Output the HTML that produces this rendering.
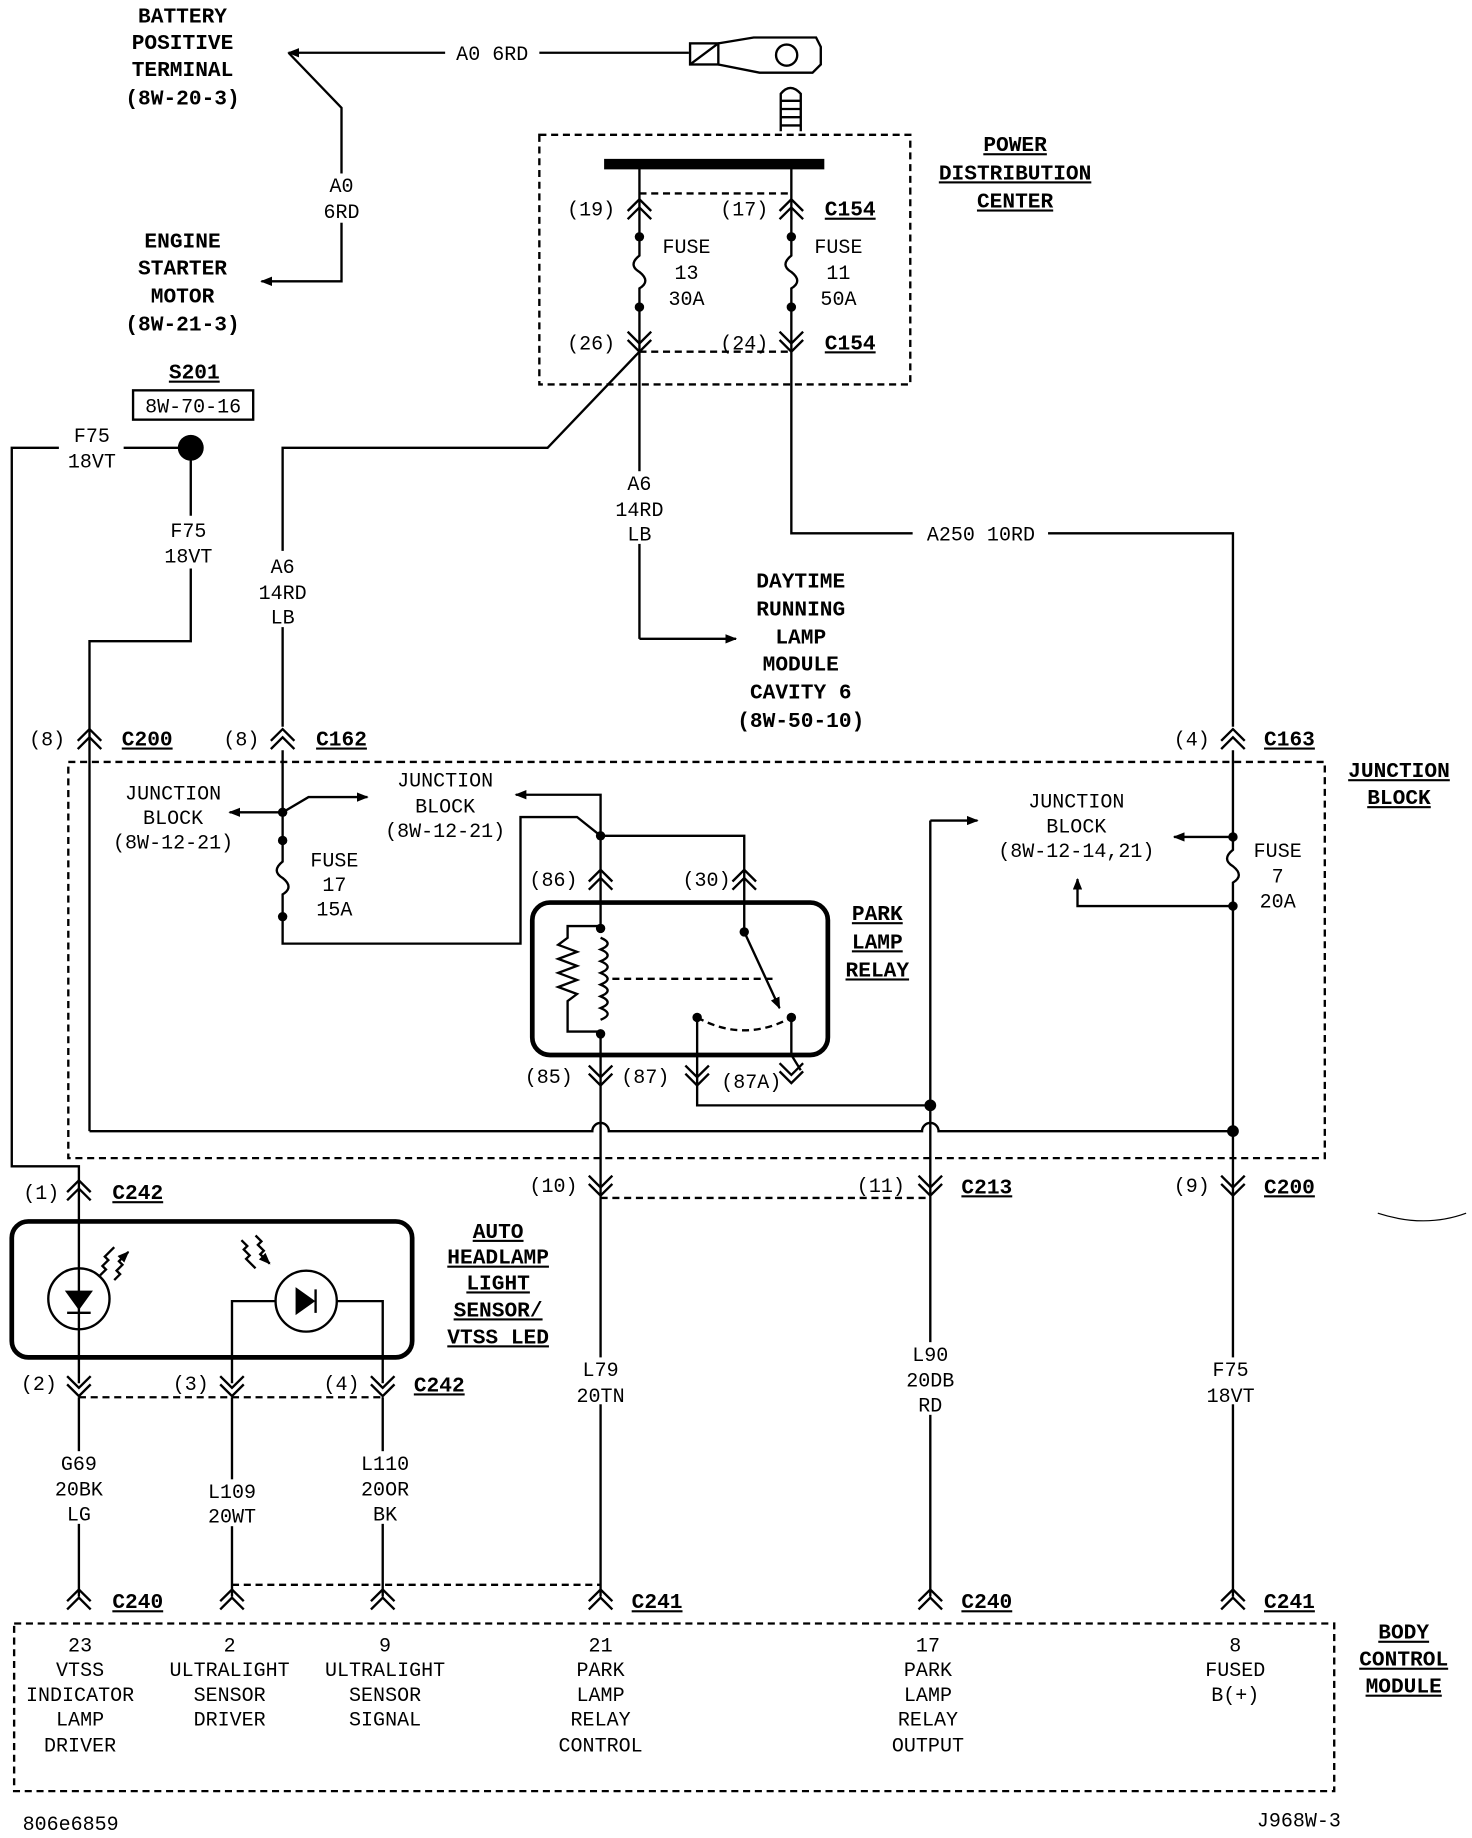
<!DOCTYPE html>
<html><head><meta charset="utf-8"><style>
html,body{margin:0;padding:0;background:#fff}
svg{display:block}
text{font-family:"Liberation Mono",monospace;font-size:17px;fill:#000;text-anchor:middle}
.b{font-weight:bold;font-size:18px}
.u{text-decoration:underline}
</style></head><body>
<svg width="1472" height="1838" viewBox="0 0 1250 1568" preserveAspectRatio="none" xmlns="http://www.w3.org/2000/svg">
<defs>
<g id="up"><path d="M-10,2 L0,-8 L10,2 M-10,9 L0,-1 L10,9" fill="none" stroke="#000" stroke-width="2"/></g>
<g id="dn"><path d="M-10,-2 L0,8 L10,-2 M-10,-9 L0,1 L10,-9" fill="none" stroke="#000" stroke-width="2"/></g>
<marker id="ar" markerWidth="10" markerHeight="8" refX="9" refY="4" orient="auto" markerUnits="userSpaceOnUse"><path d="M0,0 L10,4 L0,8z" fill="#000"/></marker>
</defs>
<g fill="none" stroke="#000" stroke-width="2">
<path d="M585,45 L245,45" marker-end="url(#ar)"/>
<rect x="378" y="36" width="80" height="18" fill="#fff" stroke="none"/>
<path d="M245,45 L290,92 L290,240 L222,240" marker-end="url(#ar)"/>
<rect x="270" y="148" width="40" height="42" fill="#fff" stroke="none"/>
<rect x="586" y="37" width="24" height="18"/><path d="M586,55 L610,37"/>
<path d="M610,37 L640,32 L693,32 L697,40 L697,55 L690,62 L645,62 L610,55"/>
<circle cx="668" cy="47" r="9"/>
<path d="M663,112 L663,80 Q671,70 680,80 L680,112 M663,86 L680,86 M663,93 L680,93 M663,100 L680,100 M663,107 L680,107"/>
<rect x="458" y="115" width="315" height="213" stroke-dasharray="6,4"/>
<path d="M513,140 L700,140" stroke-width="9"/>
<path d="M543,140 L543,200 M672,140 L672,200 M543,262 L543,545" />
<path d="M543,545 L625,545" marker-end="url(#ar)"/>
<path d="M672,262 L672,455 L775,455 M890,455 L1047,455 L1047,620"/>
<path d="M543,165 L672,165 M543,300 L672,300" stroke-dasharray="6,4"/>
<path d="M543,202 L543,218 q-10,8 0,14 q10,8 0,14 L543,262 M672,202 L672,218 q-10,8 0,14 q10,8 0,14 L672,262"/>
<path d="M543,300 L465,382 L240,382 L240,470 M240,535 L240,620"/>
<rect x="520" y="402" width="48" height="62" fill="#fff" stroke="none"/>
<rect x="113" y="333" width="102" height="25"/>
<path d="M105,382 L162,382 M50,382 L10,382 L10,995 L67,995 L67,1180 M162,382 L162,440 M162,485 L162,547 L76,547 L76,965"/>
<rect x="58" y="650" width="1067" height="338" stroke-dasharray="6,4"/>
<path d="M240,640 L240,717"/>
<path d="M240,693 L195,693" marker-end="url(#ar)"/>
<path d="M240,693 L262,680 L312,680" marker-end="url(#ar)"/>
<path d="M240,717 L240,735 q-10,8 0,14 q10,8 0,14 L240,782 L240,805 L442,805 L442,697 L490,697 L510,713"/>
<path d="M510,713 L510,678 L438,678" marker-end="url(#ar)"/>
<path d="M510,713 L510,790 M510,880 L510,1180 M510,713 L632,713 L632,795"/>
<rect x="452" y="770" width="251" height="130" rx="15" stroke-width="4"/>
<path d="M510,790 L482,790 L482,800 l-8,6 l16,6 l-16,6 l16,6 l-16,6 l16,6 l-16,6 l16,6 l-8,6 L482,880 L510,880"/>
<path d="M510,800 q12,5 0,10 q12,5 0,10 q12,5 0,10 q12,5 0,10 q12,5 0,10 q12,5 0,10 q12,5 0,10"/>
<path d="M520,835 L660,835 M592,868 Q632,890 672,868" stroke-dasharray="6,4"/>
<path d="M632,795 L662,860" marker-end="url(#ar)"/>
<path d="M672,868 L672,900 L680,913 M592,868 L592,943 L790,943"/>
<path d="M790,700 L830,700" marker-end="url(#ar)"/>
<path d="M790,700 L790,1180"/>
<path d="M1047,640 L1047,725 q-10,8 0,14 q10,8 0,14 L1047,1180"/>
<path d="M1047,714 L997,714" marker-end="url(#ar)"/>
<path d="M1047,773 L915,773 L915,750" marker-end="url(#ar)"/>
<path d="M76,965 L503,965 a7,7 0 0,1 14,0 L783,965 a7,7 0 0,1 14,0 L1047,965"/>
<path d="M510,1022 L790,1022 M67,1192 L325,1192 M197,1352 L510,1352" stroke-dasharray="6,4"/>
<rect x="10" y="1042" width="340" height="116" rx="14" stroke-width="4"/>
<circle cx="67" cy="1108" r="26"/><circle cx="260" cy="1110" r="26"/>
<path d="M57,1102 L77,1102 L67,1116z M57,1120 L77,1120" fill="#000"/>
<path d="M252,1100 L252,1120 L266,1110z M268,1100 L268,1120" fill="#000"/>
<path d="M85,1088 l5,-5 l-3,-3 l5,-5 l-3,-3 l8,-8 M97,1092 l5,-5 l-3,-3 l5,-5 l-3,-3 l8,-8" marker-end="url(#ar)"/>
<path d="M205,1058 l5,5 l-3,3 l5,5 l-3,3 l8,8 M217,1054 l5,5 l-3,3 l5,5 l-3,3 l8,8" marker-end="url(#ar)"/>
<path d="M197,1180 L197,1110 L234,1110 M286,1110 L325,1110 L325,1180"/>
<path d="M67,1192 L67,1362 M197,1192 L197,1362 M325,1192 L325,1362 M510,1192 L510,1362 M790,1192 L790,1362 M1047,1192 L1047,1362"/>
<rect x="40" y="1238" width="55" height="62" fill="#fff" stroke="none"/>
<rect x="170" y="1262" width="55" height="40" fill="#fff" stroke="none"/>
<rect x="300" y="1238" width="55" height="62" fill="#fff" stroke="none"/>
<rect x="482" y="1158" width="55" height="40" fill="#fff" stroke="none"/>
<rect x="762" y="1145" width="55" height="62" fill="#fff" stroke="none"/>
<rect x="1018" y="1158" width="55" height="40" fill="#fff" stroke="none"/>
<rect x="12" y="1385" width="1121" height="143" stroke-dasharray="6,4"/>
<path d="M1170,1035 Q1210,1048 1245,1035" stroke-width="1"/>
</g>
<g fill="#000"><circle cx="162" cy="382" r="11"/><circle cx="543" cy="202" r="4"/><circle cx="543" cy="262" r="4"/><circle cx="672" cy="202" r="4"/><circle cx="672" cy="262" r="4"/>
<circle cx="240" cy="693" r="4"/><circle cx="240" cy="717" r="4"/><circle cx="240" cy="782" r="4"/><circle cx="510" cy="713" r="4"/><circle cx="510" cy="792" r="4"/><circle cx="510" cy="882" r="4"/><circle cx="632" cy="795" r="4"/><circle cx="672" cy="868" r="4"/><circle cx="592" cy="868" r="4"/><circle cx="790" cy="943" r="5"/><circle cx="1047" cy="714" r="4"/><circle cx="1047" cy="773" r="4"/><circle cx="1047" cy="965" r="5"/></g>
<use href="#up" x="543" y="178"/><use href="#up" x="672" y="178"/>
<use href="#dn" x="543" y="292"/><use href="#dn" x="672" y="292"/>
<use href="#up" x="76" y="630"/><use href="#up" x="240" y="630"/><use href="#up" x="1047" y="630"/>
<use href="#up" x="510" y="750"/><use href="#up" x="632" y="750"/>
<use href="#dn" x="510" y="918"/><use href="#dn" x="592" y="918"/><use href="#dn" x="672" y="916"/>
<use href="#up" x="67" y="1015"/><use href="#dn" x="510" y="1012"/><use href="#dn" x="790" y="1012"/><use href="#dn" x="1047" y="1012"/>
<use href="#dn" x="67" y="1183"/><use href="#dn" x="197" y="1183"/><use href="#dn" x="325" y="1183"/>
<use href="#up" x="67" y="1364"/><use href="#up" x="197" y="1364"/><use href="#up" x="325" y="1364"/><use href="#up" x="510" y="1364"/><use href="#up" x="790" y="1364"/><use href="#up" x="1047" y="1364"/>
<g class="b"><text class="b" x="155" y="19">BATTERY</text><text class="b" x="155" y="42">POSITIVE</text><text class="b" x="155" y="65">TERMINAL</text><text class="b" x="155" y="89">(8W-20-3)</text>
<text class="b" x="155" y="211">ENGINE</text><text class="b" x="155" y="234">STARTER</text><text class="b" x="155" y="258">MOTOR</text><text class="b" x="155" y="282">(8W-21-3)</text>
<text class="b u" x="862" y="129">POWER</text><text class="b u" x="862" y="153">DISTRIBUTION</text><text class="b u" x="862" y="177">CENTER</text>
<text class="b u" x="722" y="184">C154</text><text class="b u" x="722" y="298">C154</text>
<text class="b u" x="165" y="323">S201</text>
<text class="b" x="680" y="501">DAYTIME</text><text class="b" x="680" y="525">RUNNING</text><text class="b" x="680" y="549">LAMP</text><text class="b" x="680" y="572">MODULE</text><text class="b" x="680" y="596">CAVITY 6</text><text class="b" x="680" y="620">(8W-50-10)</text>
<text class="b u" x="125" y="636">C200</text><text class="b u" x="290" y="636">C162</text><text class="b u" x="1095" y="636">C163</text>
<text class="b u" x="1188" y="663">JUNCTION</text><text class="b u" x="1188" y="686">BLOCK</text>
<text class="b u" x="745" y="785">PARK</text><text class="b u" x="745" y="809">LAMP</text><text class="b u" x="745" y="833">RELAY</text>
<text class="b u" x="117" y="1023">C242</text><text class="b u" x="838" y="1018">C213</text><text class="b u" x="1095" y="1018">C200</text>
<text class="b u" x="423" y="1056">AUTO</text><text class="b u" x="423" y="1078">HEADLAMP</text><text class="b u" x="423" y="1100">LIGHT</text><text class="b u" x="423" y="1123">SENSOR/</text><text class="b u" x="423" y="1146">VTSS  LED</text>
<text class="b u" x="373" y="1187">C242</text>
<text class="b u" x="117" y="1372">C240</text><text class="b u" x="558" y="1372">C241</text><text class="b u" x="838" y="1372">C240</text><text class="b u" x="1095" y="1372">C241</text>
<text class="b u" x="1192" y="1398">BODY</text><text class="b u" x="1192" y="1421">CONTROL</text><text class="b u" x="1192" y="1444">MODULE</text></g>
<text x="418" y="51">A0 6RD</text><text x="290" y="164">A0</text><text x="290" y="186">6RD</text>
<text x="502" y="184">(19)</text><text x="632" y="184">(17)</text><text x="502" y="298">(26)</text><text x="632" y="298">(24)</text>
<text x="583" y="216">FUSE</text><text x="583" y="238">13</text><text x="583" y="260">30A</text>
<text x="712" y="216">FUSE</text><text x="712" y="238">11</text><text x="712" y="260">50A</text>
<text x="164" y="352">8W-70-16</text>
<text x="78" y="377">F75</text><text x="78" y="399">18VT</text><text x="160" y="458">F75</text><text x="160" y="480">18VT</text>
<text x="543" y="418">A6</text><text x="543" y="440">14RD</text><text x="543" y="461">LB</text>
<text x="240" y="489">A6</text><text x="240" y="511">14RD</text><text x="240" y="532">LB</text>
<text x="833" y="461">A250 10RD</text>
<text x="40" y="636">(8)</text><text x="205" y="636">(8)</text><text x="1012" y="636">(4)</text>
<text x="147" y="682">JUNCTION</text><text x="147" y="703">BLOCK</text><text x="147" y="724">(8W-12-21)</text>
<text x="378" y="671">JUNCTION</text><text x="378" y="693">BLOCK</text><text x="378" y="714">(8W-12-21)</text>
<text x="284" y="739">FUSE</text><text x="284" y="760">17</text><text x="284" y="781">15A</text>
<text x="914" y="689">JUNCTION</text><text x="914" y="710">BLOCK</text><text x="914" y="731">(8W-12-14,21)</text>
<text x="1085" y="731">FUSE</text><text x="1085" y="753">7</text><text x="1085" y="774">20A</text>
<text x="470" y="756">(86)</text><text x="600" y="756">(30)</text>
<text x="466" y="924">(85)</text><text x="548" y="924">(87)</text><text x="638" y="928">(87A)</text>
<text x="35" y="1023">(1)</text><text x="470" y="1017">(10)</text><text x="748" y="1017">(11)</text><text x="1012" y="1017">(9)</text>
<text x="33" y="1186">(2)</text><text x="162" y="1186">(3)</text><text x="290" y="1186">(4)</text>
<text x="67" y="1254">G69</text><text x="67" y="1276">20BK</text><text x="67" y="1297">LG</text>
<text x="197" y="1278">L109</text><text x="197" y="1299">20WT</text>
<text x="327" y="1254">L110</text><text x="327" y="1276">20OR</text><text x="327" y="1297">BK</text>
<text x="510" y="1174">L79</text><text x="510" y="1196">20TN</text>
<text x="790" y="1161">L90</text><text x="790" y="1183">20DB</text><text x="790" y="1204">RD</text>
<text x="1045" y="1174">F75</text><text x="1045" y="1196">18VT</text>
<text x="68" y="1409">23</text><text x="68" y="1430">VTSS</text><text x="68" y="1451">INDICATOR</text><text x="68" y="1472">LAMP</text><text x="68" y="1494">DRIVER</text>
<text x="195" y="1409">2</text><text x="195" y="1430">ULTRALIGHT</text><text x="195" y="1451">SENSOR</text><text x="195" y="1472">DRIVER</text>
<text x="327" y="1409">9</text><text x="327" y="1430">ULTRALIGHT</text><text x="327" y="1451">SENSOR</text><text x="327" y="1472">SIGNAL</text>
<text x="510" y="1409">21</text><text x="510" y="1430">PARK</text><text x="510" y="1451">LAMP</text><text x="510" y="1472">RELAY</text><text x="510" y="1494">CONTROL</text>
<text x="788" y="1409">17</text><text x="788" y="1430">PARK</text><text x="788" y="1451">LAMP</text><text x="788" y="1472">RELAY</text><text x="788" y="1494">OUTPUT</text>
<text x="1049" y="1409">8</text><text x="1049" y="1430">FUSED</text><text x="1049" y="1451">B(+)</text>
<text x="60" y="1561">806e6859</text><text x="1103" y="1558">J968W-3</text>
</svg>
</body></html>
